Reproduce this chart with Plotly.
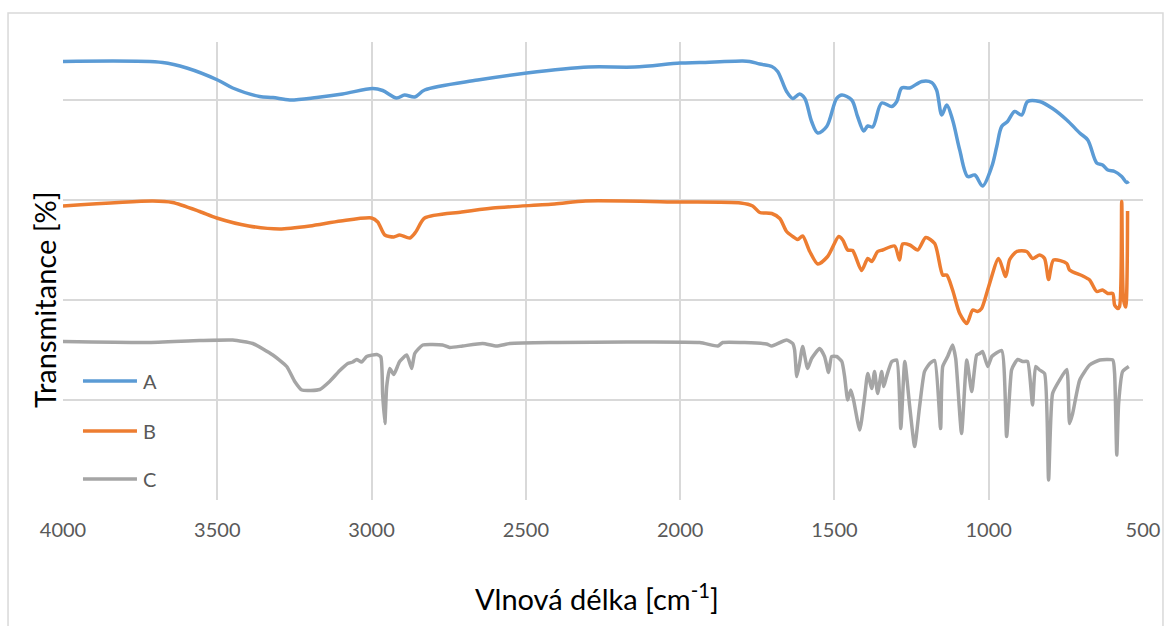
import plotly.graph_objects as go

# IR spectra of three samples (wavenumber in cm-1, transmittance in %, stacked)
wn_a = [4000, 3677, 3599, 3499, 3450, 3363, 3320, 3265, 3178, 3094, 2996, 2964, 2919, 2893,
        2860, 2828, 2656, 2497, 2296, 2147, 2000, 1937, 1797, 1775, 1742, 1703, 1684, 1655,
        1635, 1613, 1596, 1574, 1554, 1525, 1493, 1476, 1444, 1425, 1405, 1392, 1376, 1347,
        1314, 1298, 1282, 1256, 1217, 1185, 1169, 1152, 1136, 1117, 1094, 1068, 1045, 1020,
        990, 974, 958, 939, 916, 893, 874, 835, 793, 747, 705, 679, 650, 631, 614, 592, 569,
        553, 546]
t_a = [87.7, 87.5, 86.4, 84.0, 82.4, 80.7, 80.5, 80.0, 80.5, 81.2, 82.3, 81.9, 80.4, 81.0,
       80.6, 82.0, 84.0, 85.4, 86.6, 86.6, 87.4, 87.5, 87.8, 87.7, 87.2, 86.7, 85.7, 81.7,
       80.3, 81.2, 80.3, 75.7, 73.4, 74.7, 80.3, 81.0, 80.0, 76.7, 73.8, 74.8, 74.6, 79.4,
       78.7, 79.7, 82.4, 82.4, 83.7, 83.5, 82.0, 77.0, 79.0, 76.0, 70.0, 64.7, 65.0, 62.8,
       66.7, 70.7, 74.7, 75.7, 77.7, 77.0, 79.7, 79.7, 78.3, 76.0, 73.4, 72.0, 67.4, 67.0,
       66.0, 65.7, 64.7, 63.5, 63.7]

wn_b = [4000, 3709, 3645, 3557, 3502, 3398, 3298, 3200, 3100, 3000, 2980, 2957, 2928, 2909,
        2876, 2857, 2828, 2708, 2607, 2407, 2306, 2000, 1804, 1765, 1742, 1703, 1677, 1655,
        1635, 1619, 1603, 1580, 1554, 1522, 1486, 1473, 1457, 1441, 1412, 1392, 1379, 1360,
        1344, 1305, 1289, 1279, 1256, 1230, 1204, 1175, 1149, 1136, 1117, 1094, 1071, 1052,
        1036, 1023, 1000, 968, 945, 932, 909, 877, 858, 835, 819, 806, 790, 747, 738, 695,
        673, 650, 631, 614, 598, 592, 582, 576, 569, 563, 556, 550]
t_b = [58.8, 59.8, 59.5, 57.7, 56.4, 54.8, 54.2, 54.8, 55.8, 56.4, 55.6, 53.0, 52.6, 53.0,
       52.4, 53.6, 56.4, 57.6, 58.4, 59.2, 59.8, 59.6, 59.4, 58.8, 57.5, 57.3, 56.3, 53.7,
       52.7, 52.1, 52.8, 49.7, 47.2, 48.7, 52.7, 52.0, 50.0, 49.9, 45.9, 48.3, 47.7, 49.7,
       50.0, 50.8, 48.0, 51.2, 51.0, 50.0, 52.5, 51.3, 45.0, 45.0, 42.0, 37.3, 35.3, 38.0,
       37.7, 38.3, 42.7, 48.3, 44.7, 48.1, 49.7, 49.7, 48.3, 49.0, 48.3, 44.1, 48.0, 47.3,
       46.0, 44.8, 44.0, 41.7, 42.0, 41.3, 41.3, 39.0, 38.3, 38.7, 59.7, 40.0, 38.6, 57.8]

wn_c = [4000, 3729, 3557, 3450, 3385, 3320, 3275, 3249, 3226, 3168, 3136, 3103, 3077, 3061,
        3048, 3032, 3016, 2983, 2970, 2964, 2957, 2951, 2941, 2928, 2909, 2886, 2870, 2860,
        2834, 2770, 2747, 2705, 2640, 2595, 2552, 2423, 1937, 1878, 1862, 1720, 1703, 1655,
        1635, 1629, 1622, 1613, 1603, 1587, 1574, 1548, 1532, 1519, 1509, 1493, 1476, 1467,
        1457, 1447, 1438, 1418, 1402, 1392, 1379, 1370, 1360, 1347, 1340, 1331, 1314, 1298,
        1285, 1272, 1256, 1240, 1224, 1208, 1191, 1175, 1156, 1149, 1133, 1117, 1107, 1088,
        1071, 1055, 1039, 1029, 1020, 1003, 990, 958, 942, 926, 916, 906, 890, 874, 858, 848,
        835, 819, 806, 793, 770, 747, 738, 728, 705, 673, 640, 598, 592, 585, 579, 566, 546]
t_c = [31.7, 31.5, 31.9, 32.0, 31.3, 29.0, 26.7, 23.7, 22.0, 22.1, 23.7, 25.9, 27.3, 27.6,
       28.1, 27.6, 28.7, 29.1, 28.6, 21.0, 15.3, 22.7, 26.3, 25.1, 27.7, 29.0, 26.3, 29.3,
       31.0, 31.0, 30.5, 30.8, 31.3, 30.8, 31.3, 31.5, 31.5, 30.8, 31.5, 31.2, 30.8, 32.0,
       31.3, 30.0, 24.7, 27.3, 30.7, 26.3, 28.3, 30.3, 28.7, 25.5, 28.7, 28.7, 27.7, 24.7,
       20.0, 22.0, 20.0, 14.0, 20.7, 25.3, 22.3, 25.7, 21.3, 25.7, 22.7, 24.7, 27.7, 28.0,
       14.3, 27.7, 18.7, 10.7, 18.7, 25.7, 27.3, 27.9, 14.3, 26.7, 28.7, 31.0, 28.3, 13.3,
       28.0, 21.7, 29.0, 29.3, 29.7, 26.7, 28.7, 29.9, 12.7, 26.0, 27.3, 28.1, 27.7, 27.7,
       19.0, 26.7, 26.0, 25.3, 4.0, 21.3, 24.0, 26.1, 15.3, 17.3, 24.0, 27.0, 28.0, 28.0,
       25.3, 9.0, 19.3, 25.7, 26.7]

names = ["A", "B", "C"]
colors = ["#5B9BD5", "#ED7D31", "#A5A5A5"]
smooth = [0.9, 0.7, 0.5]
x_ticks = [4000, 3500, 3000, 2500, 2000, 1500, 1000, 500]
y_grid = [0, 20, 40, 60, 80]

FONT = "Lato"
GRID = "#D9D9D9"

fig = go.Figure()
for name, col, sm, xs, ys in zip(names, colors, smooth, [wn_a, wn_b, wn_c], [t_a, t_b, t_c]):
    fig.add_trace(go.Scatter(
        x=xs, y=ys, name=name, mode="lines",
        line=dict(color=col, width=3.5, shape="spline", smoothing=sm),
        showlegend=False,
    ))

# legend drawn inside the plot area, lower left
leg_y = [0.2598, 0.1507, 0.0459]
for name, col, yy in zip(names, colors, leg_y):
    fig.add_shape(type="line", xref="paper", yref="paper",
                  x0=0.0185, x1=0.0685, y0=yy, y1=yy,
                  line=dict(color=col, width=3.5))
    fig.add_annotation(xref="paper", yref="paper", x=0.0725, y=yy,
                       text=name, showarrow=False, xanchor="left", yanchor="middle",
                       font=dict(family=FONT, size=20, color="#595959"))

# axis titles
fig.add_annotation(xref="paper", yref="paper", x=0.4944, y=-0.212,
                   text="Vlnová délka [cm<sup>-1</sup>]", showarrow=False,
                   xanchor="center", yanchor="middle",
                   font=dict(family=FONT, size=29, color="#000000"))
fig.add_annotation(xref="paper", yref="paper", x=-0.0167, y=0.439,
                   text="Transmitance [%]", showarrow=False, textangle=-90,
                   xanchor="center", yanchor="middle",
                   font=dict(family=FONT, size=29, color="#000000"))

# chart frame
fig.add_shape(type="rect", xref="paper", yref="paper",
              x0=-0.0509, x1=1.0185, y0=-0.31, y1=1.0633,
              line=dict(color=GRID, width=1.5), fillcolor="rgba(0,0,0,0)")

fig.update_layout(
    width=1171, height=626,
    margin=dict(l=63, r=28, t=42, b=126),
    paper_bgcolor="white", plot_bgcolor="white",
    xaxis=dict(range=[4000, 500], tickvals=x_ticks, showgrid=True, gridcolor=GRID,
               gridwidth=2, zeroline=False, showline=False, ticks="",
               ticklabelstandoff=16,
               tickfont=dict(family=FONT, size=20, color="#595959")),
    yaxis=dict(range=[0, 91.6], tickvals=y_grid, showgrid=True, gridcolor=GRID,
               gridwidth=2, zeroline=False, showline=False, showticklabels=False,
               ticks=""),
)

fig.write_html("out.html")
